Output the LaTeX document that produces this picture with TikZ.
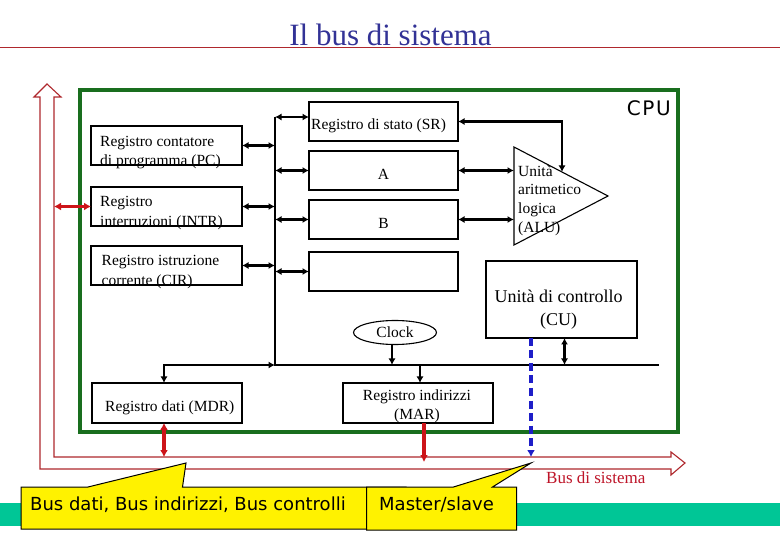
\documentclass[tikz,border=0pt]{standalone}
\usepackage{fontspec}
\setmainfont{Liberation Serif}
\newfontfamily\cpufont[LetterSpace=8]{DejaVu Sans}
\newfontfamily\callfont{DejaVu Sans}
\usetikzlibrary{arrows.meta,shapes.geometric,calc}
\definecolor{cpugreen}{RGB}{25,110,30}
\definecolor{busred}{RGB}{175,40,45}
\definecolor{titleblue}{RGB}{50,50,150}
\definecolor{arrred}{RGB}{205,20,25}
\definecolor{dashblue}{RGB}{30,30,200}
\definecolor{tealband}{RGB}{0,198,150}
\definecolor{labred}{RGB}{190,20,40}
\begin{document}
\begin{tikzpicture}[x=1pt,y=-1pt,
  reg/.style={draw=black,line width=1.1pt,inner sep=0pt,outer sep=0pt,minimum width=151pt,minimum height=39pt},
  txt/.style={inner sep=0pt,font=\fontsize{15.5}{19}\selectfont},
  dbl/.style={line width=2.6pt,{Latex[length=6.5pt,width=7pt]}-{Latex[length=6.5pt,width=7pt]}},
  one/.style={line width=2.6pt,-{Latex[length=6.5pt,width=7pt]}},
  rdbl/.style={arrred,line width=3.2pt,{Latex[length=7pt,width=8pt]}-{Latex[length=7pt,width=8pt]}},
  rone/.style={arrred,line width=3.2pt,-{Latex[length=7pt,width=8pt]}},
  busline/.style={line width=1.5pt},
  callout/.style={fill=yellow,draw=black,line width=1pt},
  calltext/.style={anchor=base west,inner sep=0pt,font=\callfont\fontsize{18}{18}\selectfont},
]
\useasboundingbox (0,0) rectangle (780,540);
\fill[white] (0,0) rectangle (780,540);

% title
\node[anchor=base,inner sep=0pt,font=\fontsize{31}{31}\selectfont,text=titleblue] (title) at (390.5,46) {Il bus di sistema};
\draw[busred,line width=1pt] (0,48) -- (780,48);

% bottom band
\fill[tealband] (0,503) rectangle (780,526);

% system bus hollow arrow
\draw[busred,line width=1.1pt,fill=white] (47,84) -- (61,97) -- (54,97) -- (54,457) -- (671,457) -- (671,452) -- (685,463) -- (671,475) -- (671,469) -- (40,469) -- (40,97) -- (34,97) -- cycle;
\coordinate (busin) at (54,457);

% CPU frame
\draw[cpugreen,line width=3.6pt] (80,90) rectangle (678,432);
\node[anchor=base east,inner sep=0pt,font=\cpufont\fontsize{20}{20}\selectfont] (cpu) at (671,116) {CPU};

% registers
\node[reg] (pc) at (166.5,145.5) {};
\node[reg] (intr) at (166.5,206.5) {};
\node[reg] (cir) at (166.5,265.5) {};
\node[reg,minimum width=149pt] (sr) at (383.5,121.5) {};
\node[reg,minimum width=149pt] (ra) at (383.5,170.5) {};
\node[reg,minimum width=149pt] (rb) at (383.5,219.5) {};
\node[reg,minimum width=149pt] (re) at (383.5,271.5) {};
\node[reg,minimum height=77pt] (cu) at (561.5,299.5) {};
\node[reg,minimum width=150pt,minimum height=40pt] (mdr) at (167,403) {};
\node[reg,minimum width=150pt,minimum height=40pt] (mar) at (418,403) {};
\node[draw,ellipse,line width=1.1pt,minimum width=83pt,minimum height=24pt,inner sep=0pt,outer sep=0pt] (clk) at (395,332.5) {};

% ALU
\coordinate (aluA) at (514,147);
\coordinate (aluB) at (514,245);
\coordinate (aluC) at (608,196);
\coordinate (alutop) at (562,172);
\draw[line width=1.1pt] (aluA) -- (aluC) -- (aluB) -- cycle;

% texts
\node[txt,anchor=base west] (pct1) at (100,146.5) {Registro contatore};
\node[txt,anchor=base west] (pct2) at (100,165.5) {di programma (PC)};
\node[txt,anchor=base west] (it1) at (100,206.5) {Registro};
\node[txt,anchor=base west] (it2) at (100,226.5) {interruzioni (INTR)};
\node[txt,anchor=base west] (ct1) at (101.5,266) {Registro istruzione};
\node[txt,anchor=base west] (ct2) at (101.5,285.5) {corrente (CIR)};
\node[txt,anchor=base west] (srt) at (311,130) {Registro di stato (SR)};
\node[txt,anchor=base] (rat) at (383.5,180) {A};
\node[txt,anchor=base] (rbt) at (383.5,229) {B};
\node[txt,anchor=base west] (al1) at (518,176.5) {Unità};
\node[txt,anchor=base west] (al2) at (518,195) {aritmetico};
\node[txt,anchor=base west] (al3) at (518,213.5) {logica};
\node[txt,anchor=base west] (al4) at (518,232.5) {(ALU)};
\node[txt,anchor=base] (clkt) at (395,337.5) {Clock};
\node[txt,anchor=base west] (mdrt) at (105,411.5) {Registro dati (MDR)};
\node[txt,anchor=base] (mart1) at (417,400.5) {Registro indirizzi};
\node[txt,anchor=base] (mart2) at (417,420) {(MAR)};
\node[anchor=base,inner sep=0pt,font=\fontsize{18}{18}\selectfont] (cut1) at (558.5,302.5) {Unità di controllo};
\node[anchor=base,inner sep=0pt,font=\fontsize{18}{18}\selectfont] (cut2) at (558.5,326) {(CU)};

% internal bus
\coordinate (vtop) at (275,117);
\coordinate (hl) at (275,365);
\coordinate (hr) at (659,365);
\draw[busline] (vtop) -- (hl) -- (hr);

% register connections
\draw[dbl] (pc.east) -- (pc.east -| vtop);
\draw[dbl] (intr.east) -- (intr.east -| vtop);
\draw[dbl] (cir.east) -- (cir.east -| vtop);
\draw[dbl] (vtop) -- (vtop -| sr.west);
\draw[dbl] (ra.west -| vtop) -- (ra.west);
\draw[dbl] (rb.west -| vtop) -- (rb.west);
\draw[dbl] (re.west -| vtop) -- (re.west);
\draw[dbl] (sr.east) -| (alutop);
\draw[dbl] (ra.east) -- (ra.east -| aluA);
\draw[dbl] (rb.east) -- (rb.east -| aluA);

\coordinate (mdrtop) at ([xshift=-3pt]mdr.north);
\draw[dbl] (mdrtop) |- (hl);
\coordinate (clkbot) at ([xshift=-3pt]clk.south);
\draw[one] (clkbot) -- (clkbot |- hl);
\coordinate (martop) at ([xshift=2pt]mar.north);
\draw[one] (martop |- hl) -- (martop);
\coordinate (cubot) at ([xshift=3pt]cu.south);
\draw[dbl] (cubot) -- (cubot |- hl);

% system bus connections
\draw[rdbl] (intr.west -| busin) -- (intr.west);
\coordinate (mdrbot) at ([xshift=-3pt]mdr.south);
\draw[rdbl] (mdrbot) -- (mdrbot |- busin);
\coordinate (marbot) at ([xshift=6pt]mar.south);
\coordinate (marend) at (424,462);
\draw[rone] (marbot) -- (marend);
\coordinate (cubl) at ([xshift=-30.5pt]cu.south);
\draw[dashblue,line width=3.2pt,dash pattern=on 8pt off 4.5pt,-{Latex[length=7pt,width=8pt]}] (cubl) -- (cubl |- busin);

\node[anchor=base west,inner sep=0pt,font=\fontsize{17}{17}\selectfont,text=labred] (bds) at (546,483.5) {Bus di sistema};

% callouts
\draw[callout] (21,487) -- (88,487) -- (186,463) -- (182.5,487) -- (406,487) -- (406,529) -- (21,529) -- cycle;
\node[calltext] (c1) at (30,510.5) {Bus dati, Bus indirizzi, Bus controlli};
\draw[callout] (366.5,487) -- (453.5,487) -- (531,463) -- (492.5,487) -- (516.5,487) -- (516.5,530) -- (366.5,530) -- cycle;
\node[calltext] (c2) at (379,510.5) {Master/slave};
\end{tikzpicture}
\end{document}
